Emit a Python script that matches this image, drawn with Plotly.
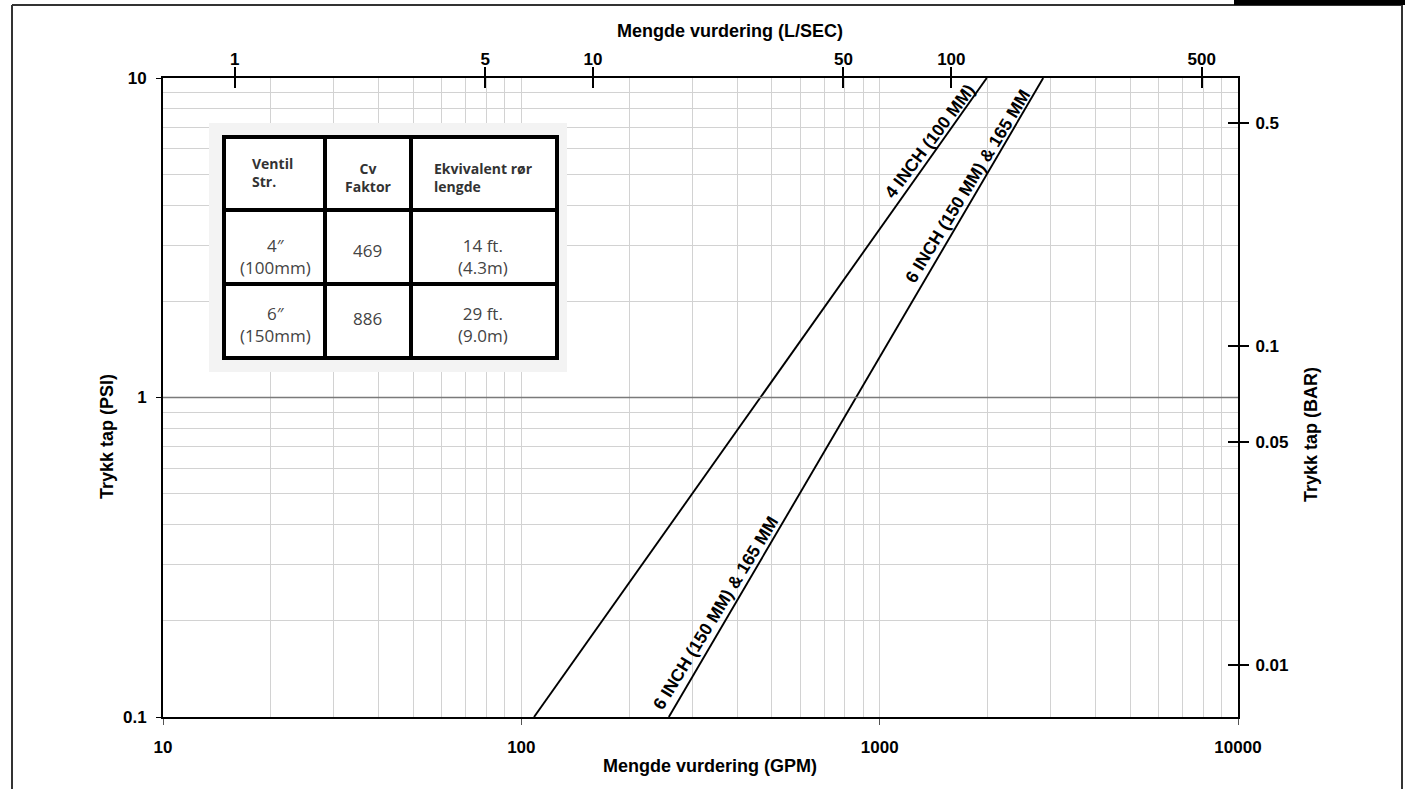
import numpy as np
import plotly.graph_objects as go

# ---------------- data ----------------
gpm_4in = [108.5, 1990]        # flow (GPM) at ends of 4" curve
psi_4in = [0.1, 10]
gpm_6in = [258, 2860]          # flow (GPM) at ends of 6" curve
psi_6in = [0.1, 10]

x_ticks_gpm = [10, 100, 1000, 10000]
y_ticks_psi = [0.1, 1, 10]
x_ticks_lps = [1, 5, 10, 50, 100, 500]
y_ticks_bar = [0.5, 0.1, 0.05, 0.01]

GPM_PER_LPS = 15.85
PSI_PER_BAR = 14.5

table_header = ["Ventil<br>Str.", "Cv<br>Faktor", "Ekvivalent rør<br>lengde"]
table_rows = [["4\u2033<br>(100mm)", "469", "14 ft.<br>(4.3m)"],
              ["6\u2033<br>(150mm)", "886", "29 ft.<br>(9.0m)"]]

curve_labels = ["4 INCH (100 MM)", "6 INCH (150 MM) & 165 MM", "6 INCH (150 MM) & 165 MM"]

# ---------------- layout helpers ----------------
W, H = 1405, 789
L, R, T, B = 163, 1238, 78, 717
def px(xp):
    return (xp - L) / (R - L)
def py(yp):
    return (B - yp) / (B - T)

minor_x = [m * 10**d for d in range(1, 4) for m in range(2, 10)]
minor_y = [m * 10**d for d in range(-1, 1) for m in range(2, 10)]

FONT = "Liberation Sans, Arial, sans-serif"
GRID = "#d2d2d2"

fig = go.Figure()
fig.add_trace(go.Scatter(x=gpm_4in, y=psi_4in, mode="lines",
                         line=dict(color="black", width=1.9), showlegend=False))
fig.add_trace(go.Scatter(x=gpm_6in, y=psi_6in, mode="lines",
                         line=dict(color="black", width=1.9), showlegend=False))
# invisible traces to activate secondary axes
fig.add_trace(go.Scatter(x=[1], y=[0.05], xaxis="x2", yaxis="y2", mode="markers",
                         marker=dict(opacity=0), showlegend=False, hoverinfo="skip"))
fig.add_trace(go.Scatter(x=[1], y=[0.05], xaxis="x3", yaxis="y3", mode="markers",
                         marker=dict(opacity=0), showlegend=False, hoverinfo="skip"))

tickfont = dict(family=FONT, size=17, color="black", weight="bold")

fig.update_layout(
    width=W, height=H,
    margin=dict(l=L, r=W - R, t=T, b=H - B),
    plot_bgcolor="white", paper_bgcolor="white",
    font=dict(family=FONT),
    xaxis=dict(type="log", range=[1, 4], tickvals=x_ticks_gpm,
               ticktext=[str(v) for v in x_ticks_gpm],
               tickfont=tickfont, ticks="outside", ticklen=6, tickcolor="#555",
               showgrid=True, gridcolor=GRID, gridwidth=1,
               minor=dict(tickvals=minor_x, showgrid=True, gridcolor=GRID, gridwidth=1, ticks=""),
               showline=True, linecolor="black", linewidth=2, mirror=True,
               zeroline=False, ticklabelstandoff=8),
    yaxis=dict(type="log", range=[-1, 1], tickvals=y_ticks_psi,
               ticktext=["0.1", "1", "10"],
               tickfont=tickfont, ticks="outside", ticklen=5, tickcolor="black",
               showgrid=True, gridcolor=GRID, gridwidth=1,
               minor=dict(tickvals=minor_y, showgrid=True, gridcolor=GRID, gridwidth=1, ticks=""),
               showline=True, linecolor="black", linewidth=2, mirror=True,
               zeroline=False, ticklabelstandoff=6),
    xaxis2=dict(type="log", overlaying="x", side="top",
                range=[np.log10(10 / GPM_PER_LPS), np.log10(10000 / GPM_PER_LPS)],
                tickvals=x_ticks_lps, ticktext=[str(v) for v in x_ticks_lps],
                tickfont=tickfont, ticks="outside", ticklen=10, tickwidth=2, tickcolor="black",
                showgrid=False, zeroline=False, showline=False, ticklabelstandoff=-5),
    xaxis3=dict(type="log", overlaying="x", side="top",
                range=[np.log10(10 / GPM_PER_LPS), np.log10(10000 / GPM_PER_LPS)],
                tickvals=x_ticks_lps, showticklabels=False,
                ticks="inside", ticklen=10, tickwidth=2, tickcolor="black",
                showgrid=False, zeroline=False, showline=False),
    yaxis2=dict(type="log", overlaying="y", side="right",
                range=[np.log10(0.1 / PSI_PER_BAR), np.log10(10 / PSI_PER_BAR)],
                tickvals=y_ticks_bar, ticktext=[str(v) for v in y_ticks_bar],
                tickfont=tickfont, ticks="outside", ticklen=10, tickwidth=2, tickcolor="black",
                showgrid=False, zeroline=False, showline=False, ticklabelstandoff=3),
    yaxis3=dict(type="log", overlaying="y", side="right",
                range=[np.log10(0.1 / PSI_PER_BAR), np.log10(10 / PSI_PER_BAR)],
                tickvals=y_ticks_bar, showticklabels=False,
                ticks="inside", ticklen=10, tickwidth=2, tickcolor="black",
                showgrid=False, zeroline=False, showline=False),
)

shapes = []
# darker gridline at 1 PSI
shapes.append(dict(type="line", xref="paper", yref="y", x0=0, x1=1, y0=1, y1=1,
                   line=dict(color="#7a7a7a", width=1.3), layer="above"))
# outer frame
fx0, fx1, fy0, fy1 = px(12), px(1402), py(792), py(5)
shapes.append(dict(type="line", xref="paper", yref="paper", x0=fx0, x1=fx0, y0=fy0, y1=fy1,
                   line=dict(color="#333", width=2)))
shapes.append(dict(type="line", xref="paper", yref="paper", x0=fx1, x1=fx1, y0=fy0, y1=fy1,
                   line=dict(color="#333", width=2)))
shapes.append(dict(type="line", xref="paper", yref="paper", x0=fx0, x1=fx1, y0=fy1, y1=fy1,
                   line=dict(color="#333", width=2)))
shapes.append(dict(type="rect", xref="paper", yref="paper", x0=px(1234), x1=px(1405),
                   y0=py(5), y1=py(-2), fillcolor="black", line=dict(width=0)))

# table
shapes.append(dict(type="rect", xref="paper", yref="paper", x0=px(209), x1=px(567),
                   y0=py(372), y1=py(123), fillcolor="#f3f3f3", line=dict(width=0)))
tx = [224, 325, 411, 557]
ty = [137, 210, 284, 358]
shapes.append(dict(type="rect", xref="paper", yref="paper", x0=px(tx[0]), x1=px(tx[-1]),
                   y0=py(ty[-1]), y1=py(ty[0]), fillcolor="white",
                   line=dict(color="black", width=4)))
for xv in tx[1:-1]:
    shapes.append(dict(type="line", xref="paper", yref="paper", x0=px(xv), x1=px(xv),
                       y0=py(ty[-1]), y1=py(ty[0]), line=dict(color="black", width=4)))
for yv in ty[1:-1]:
    shapes.append(dict(type="line", xref="paper", yref="paper", x0=px(tx[0]), x1=px(tx[-1]),
                       y0=py(yv), y1=py(yv), line=dict(color="black", width=4)))

fig.update_layout(shapes=shapes)

ann = []
tfont_h = dict(family="Open Sans, sans-serif", size=14, color="#333", weight="bold")
tfont_b = dict(family="Open Sans, sans-serif", size=17, color="#444")
# header
ann.append(dict(xref="paper", yref="paper", x=px(250), y=py(172), text=table_header[0],
                showarrow=False, xanchor="left", yanchor="middle", align="left", font=tfont_h))
ann.append(dict(xref="paper", yref="paper", x=px(368), y=py(177), text=table_header[1],
                showarrow=False, xanchor="center", yanchor="middle", align="center", font=tfont_h))
ann.append(dict(xref="paper", yref="paper", x=px(432), y=py(177), text=table_header[2],
                showarrow=False, xanchor="left", yanchor="middle", align="left", font=tfont_h))
row_y = [256, 324]
col_x = [275, 367, 483]
for r, row in enumerate(table_rows):
    for c, txt in enumerate(row):
        ann.append(dict(xref="paper", yref="paper", x=px(col_x[c]),
                        y=py(row_y[r] - (6 if c == 1 else 0)), text=txt,
                        showarrow=False, xanchor="center", yanchor="middle", align="center",
                        font=tfont_b))

# curve labels (annotation positions on log axes are log10 values)
lab_font = dict(family=FONT, size=17.5, color="black", weight="bold")
lab_pos = [(1380, 6.35, -53), (1760, 4.6, -58.5), (348, 0.212, -58.5)]
for txt, (xv, yv, ang) in zip(curve_labels, lab_pos):
    ann.append(dict(xref="x", yref="y", x=np.log10(xv), y=np.log10(yv), text=txt,
                    showarrow=False, textangle=ang, font=lab_font))

# axis titles
title_font = dict(family=FONT, size=18, color="black", weight="bold")
ann.append(dict(xref="paper", yref="paper", x=px(730), y=py(31), text="Mengde vurdering (L/SEC)",
                showarrow=False, font=title_font, xanchor="center", yanchor="middle"))
ann.append(dict(xref="paper", yref="paper", x=px(710), y=py(766), text="Mengde vurdering (GPM)",
                showarrow=False, font=title_font, xanchor="center", yanchor="middle"))
ann.append(dict(xref="paper", yref="paper", x=px(107), y=py(437), text="Trykk tap (PSI)",
                showarrow=False, textangle=-90, font=title_font, xanchor="center", yanchor="middle"))
ann.append(dict(xref="paper", yref="paper", x=px(1311), y=py(435), text="Trykk tap (BAR)",
                showarrow=False, textangle=-90, font=title_font, xanchor="center", yanchor="middle"))
fig.update_layout(annotations=ann)

fig.write_html("out.html", config={"displayModeBar": False},
               post_script="document.body.style.margin='0';")
